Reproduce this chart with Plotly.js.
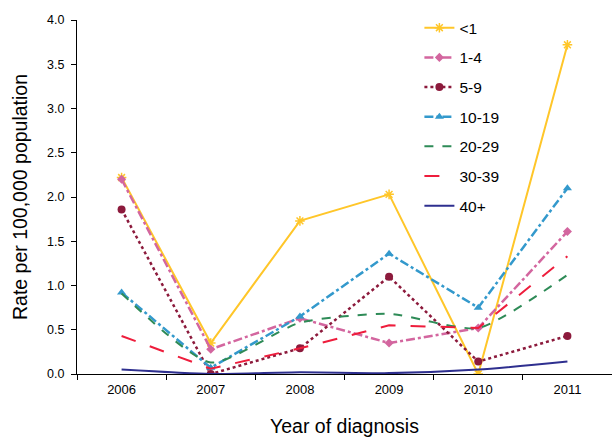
<!DOCTYPE html>
<html><head><meta charset="utf-8">
<script src="https://cdn.plot.ly/plotly-3.0.1.min.js"></script>
<style>body{margin:0;padding:0;}#chart{width:612px;height:437px;}</style>
</head><body><div id="chart"></div>
<script>
const years = ['2006','2007','2008','2009','2010','2011'];
const lt1   = [2.22, 0.35, 1.73, 2.03, 0.00, 3.72];
const a1_4  = [2.20, 0.28, 0.63, 0.35, 0.52, 1.61];
const a5_9  = [1.86, 0.00, 0.29, 1.10, 0.14, 0.43];
const a10_19= [0.92, 0.07, 0.65, 1.36, 0.75, 2.10];
const a20_29= [0.91, 0.13, 0.58, 0.68, 0.52, 1.12];
const a30_39= [0.43, 0.06, 0.29, 0.55, 0.52, 1.33];
const a40p  = [0.05, 0.00, 0.02, 0.01, 0.05, 0.14];
const names = ['<1','1-4','5-9','10-19','20-29','30-39','40+'];

const specs = [
  {y: lt1,    color:'#FFC629', dash:'solid',   width:2,   shape:'linear', marker:{symbol:'asterisk-open', size:8, line:{color:'#FFC629',width:1.5}}, mode:'lines+markers'},
  {y: a1_4,   color:'#D3669F', dash:'dashdot', width:2.5, shape:'linear', marker:{symbol:'diamond', size:7}, mode:'lines+markers'},
  {y: a5_9,   color:'#8C1A3C', dash:'dot',     width:2.5, shape:'linear', marker:{symbol:'circle', size:8}, mode:'lines+markers'},
  {y: a10_19, color:'#3399CC', dash:'dashdot', width:2.5, shape:'linear', marker:{symbol:'triangle-up', size:8}, mode:'lines+markers'},
  {y: a20_29, color:'#2E8B57', dash:'dash',    width:2,   shape:'spline', marker:{size:0}, mode:'lines'},
  {y: a30_39, color:'#EE1D3C', dash:'longdash',width:2,   shape:'linear', marker:{size:0}, mode:'lines'},
  {y: a40p,   color:'#2E2F8F', dash:'solid',   width:2,   shape:'spline', marker:{size:0}, mode:'lines'}
];

const data = specs.map((s,i)=>({
  x: years, y: s.y, name: names[i], type:'scatter', mode: s.mode,
  legendgroup: 'g'+i,
  line:{color:s.color, dash:s.dash, width:s.width, shape:s.shape, smoothing:0.6},
  marker: Object.assign({color:s.color}, s.marker)
}));

const layout = {
  width:612, height:437,
  margin:{l:77, r:0, t:20, b:63},
  paper_bgcolor:'#fff', plot_bgcolor:'#fff',
  font:{family:'Liberation Sans, Arial, sans-serif', color:'#000'},
  showlegend:true,
  legend:{x:0.64, y:1.025, xanchor:'left', yanchor:'top', font:{size:15.5}, tracegroupgap:6.5, traceorder:'grouped', bgcolor:'rgba(0,0,0,0)'},
  xaxis:{type:'category', range:[-0.5,5.5], showline:true, linecolor:'#000', linewidth:1,
    ticks:'outside', tickson:'boundaries', ticklen:5, tickcolor:'#000', tickfont:{size:13},
    ticklabelstandoff:3,
    showgrid:false, zeroline:false,
    title:{text:'Year of diagnosis', font:{size:19.5}, standoff:25}},
  yaxis:{range:[0,4], dtick:0.5, tickformat:'.1f', showline:true, linecolor:'#000', linewidth:1,
    ticks:'outside', ticklen:5, tickcolor:'#000', tickfont:{size:12.5}, showgrid:false, zeroline:false,
    ticklabelstandoff:4,
    title:{text:'Rate per 100,000 population', font:{size:19.5}, standoff:14}}
};
Plotly.newPlot('chart', data, layout, {displayModeBar:false, staticPlot:true});
</script></body></html>
